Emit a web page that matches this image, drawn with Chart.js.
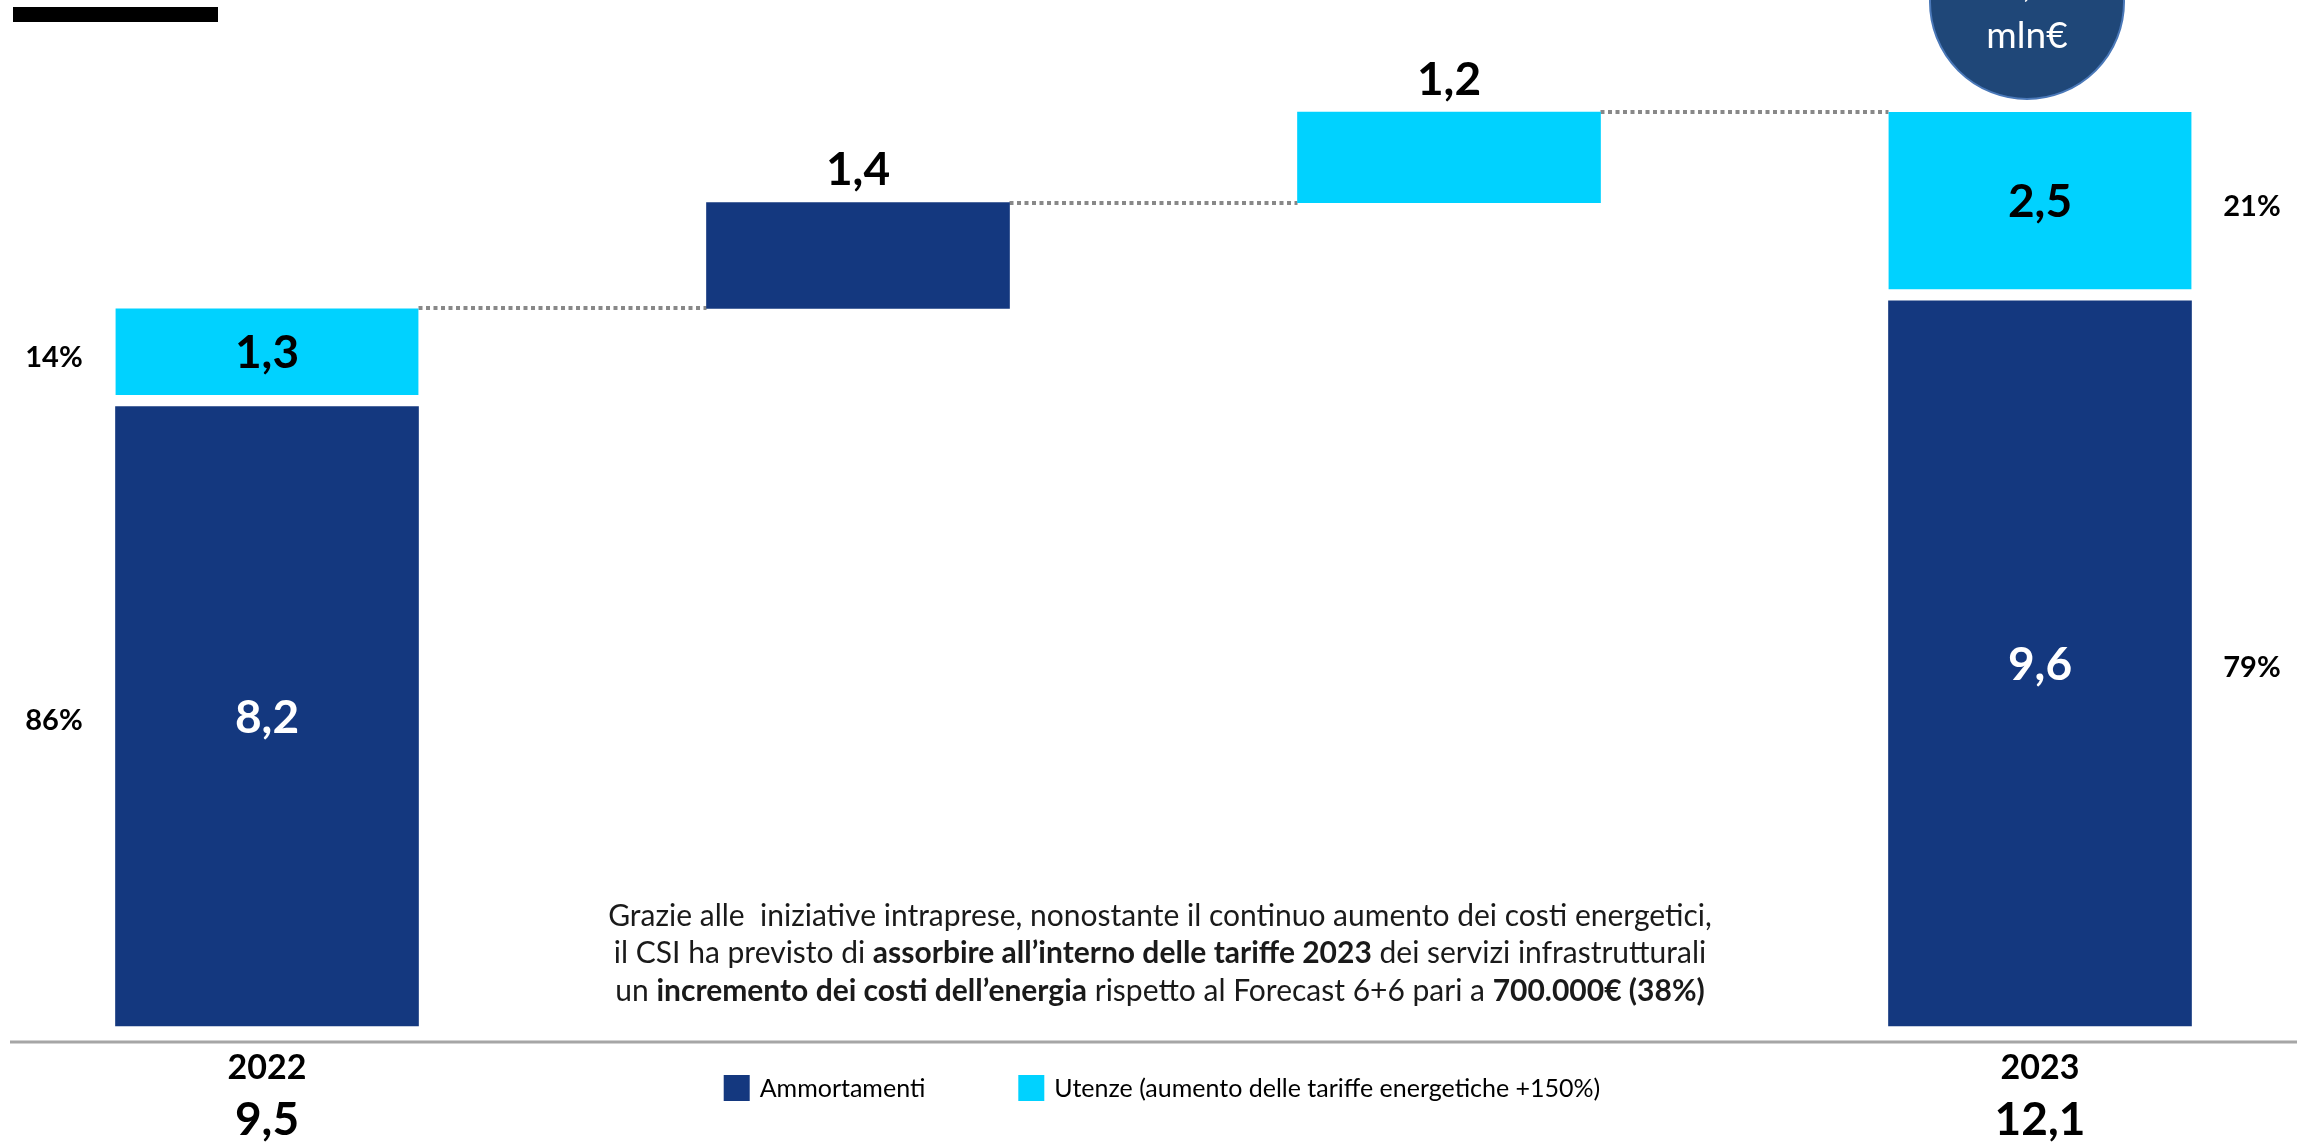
<!DOCTYPE html>
<html>
<head>
<meta charset="utf-8">
<script src="https://cdn.jsdelivr.net/npm/chart.js@4.4.1/dist/chart.umd.min.js"></script>
<style>
html, body { margin: 0; padding: 0; background: #fff; }
#wrap { position: relative; width: 2305px; height: 1145px; }
</style>
</head>
<body>
<div id="wrap"><canvas id="myChart"></canvas></div>
<script>
"use strict";
// waterfall: 2022 -> +ammortamenti -> +utenze -> 2023 (mln€)
var categories = ["2022", "Ammortamenti", "Utenze", "2023"];
var isTotal = [true, false, false, true];
var ammortamenti = [8.2, 1.4, null, 9.6];
var utenze = [1.3, null, 1.2, 2.5];
var seriesNames = ["Ammortamenti", "Utenze (aumento delle tariffe energetiche +150%)"];
var noteLines = [
    [["Grazie alle  iniziative intraprese, nonostante il continuo aumento dei costi energetici,", false]],
    [["il CSI ha previsto di ", false], ["assorbire all\u2019interno delle tariffe 2023", true], [" dei servizi infrastrutturali", false]],
    [["un ", false], ["incremento dei costi dell\u2019energia", true], [" rispetto al Forecast 6+6 pari a ", false], ["700.000\u20ac (38%)", true]]
];

var DARK = "#14387F", CYAN = "#00D2FF";
var FONT = "Lato, 'Noto Sans', sans-serif";

// floating ranges built from the values
var ammRanges = [], uteRanges = [], runAfter = [], running = 0;
for (var i = 0; i < categories.length; i++) {
    if (isTotal[i]) {
        var a = ammortamenti[i] || 0, u = utenze[i] || 0;
        ammRanges.push([0, a]);
        uteRanges.push([a, a + u]);
        running = a + u;
    } else {
        var start = running;
        if (ammortamenti[i] != null) { ammRanges.push([start, start + ammortamenti[i]]); running += ammortamenti[i]; }
        else ammRanges.push(null);
        if (utenze[i] != null) { uteRanges.push([running, running + utenze[i]]); running += utenze[i]; }
        else uteRanges.push(null);
    }
    runAfter.push(running);
}

function fmt(v) { return (Math.round(v * 10) / 10).toFixed(1).replace(".", ","); }

function drawRuns(c, runs, cx, y, size) {
    var w = 0;
    runs.forEach(function (r) {
        c.font = (r[1] ? "bold " : "") + size + "px " + FONT;
        w += c.measureText(r[0]).width;
    });
    var x = cx - w / 2;
    runs.forEach(function (r) {
        c.font = (r[1] ? "bold " : "") + size + "px " + FONT;
        c.fillText(r[0], x, y);
        x += c.measureText(r[0]).width;
    });
}

var decor = {
    id: "decor",
    beforeDatasetsDraw: function (chart) {
        var c = chart.ctx, ys = chart.scales.y;
        var m0 = chart.getDatasetMeta(0).data;
        c.save();
        c.strokeStyle = "#888888";
        c.lineWidth = 4;
        c.setLineDash([4, 3.5]);
        for (var i = 0; i < categories.length - 1; i++) {
            var b = m0[i], n = m0[i + 1];
            var y = Math.round(ys.getPixelForValue(runAfter[i]));
            c.beginPath();
            c.moveTo(b.x + b.width / 2, y);
            c.lineTo(n.x - n.width / 2, y);
            c.stroke();
        }
        c.restore();
    },
    afterDatasetsDraw: function (chart) {
        var c = chart.ctx;
        var m0 = chart.getDatasetMeta(0).data, m1 = chart.getDatasetMeta(1).data;
        c.save();
        c.textAlign = "center";
        c.textBaseline = "middle";

        // bar values
        c.font = "bold 46px " + FONT;
        for (var i = 0; i < categories.length; i++) {
            if (isTotal[i]) {
                var d = m0[i], u = m1[i];
                c.fillStyle = "#fff";
                c.fillText(fmt(ammortamenti[i]), d.x, (d.y + d.base) / 2 + 2);
                c.fillStyle = "#000";
                c.fillText(fmt(utenze[i]), u.x, (u.y + u.base - 12) / 2 + 2);
            } else {
                var v = ammortamenti[i] != null ? ammortamenti[i] : utenze[i];
                var el = ammortamenti[i] != null ? m0[i] : m1[i];
                c.fillStyle = "#000";
                c.fillText(fmt(v), el.x, el.y - 32);
            }
        }

        // shares beside the total columns
        c.font = "bold 29px " + FONT;
        c.fillStyle = "#000";
        [0, categories.length - 1].forEach(function (i) {
            var tot = ammortamenti[i] + utenze[i];
            var x = i === 0 ? 54 : 2252;
            var d = m0[i], u = m1[i];
            c.fillText(Math.round(100 * utenze[i] / tot) + "%", x, (u.y + u.base) / 2);
            c.fillText(Math.round(100 * ammortamenti[i] / tot) + "%", x, (d.y + d.base) / 2 + 4);
        });

        // axis line + category totals
        c.strokeStyle = "#a6a6a6";
        c.lineWidth = 3;
        c.beginPath();
        c.moveTo(10, 1042);
        c.lineTo(2297, 1042);
        c.stroke();
        [0, categories.length - 1].forEach(function (i) {
            c.font = "bold 34px " + FONT;
            c.fillText(categories[i], m0[i].x, 1068);
            c.font = "bold 46px " + FONT;
            c.fillText(fmt(runAfter[i]), m0[i].x, 1120);
        });

        // legend
        c.font = "25px " + FONT;
        var w1 = c.measureText(seriesNames[0]).width, w2 = c.measureText(seriesNames[1]).width;
        var total = 26 + 10 + w1 + 93 + 26 + 10 + w2;
        var lx = 1162 - total / 2;
        c.textAlign = "left";
        c.fillStyle = DARK;
        c.fillRect(lx, 1075, 26, 26);
        c.fillStyle = "#000";
        c.fillText(seriesNames[0], lx + 36, 1089);
        lx += 36 + w1 + 93;
        c.fillStyle = CYAN;
        c.fillRect(lx, 1075, 26, 26);
        c.fillStyle = "#000";
        c.fillText(seriesNames[1], lx + 36, 1089);

        // note
        c.fillStyle = "#1a1a1a";
        noteLines.forEach(function (line, k) {
            drawRuns(c, line, 1160, 916 + k * 37.5, 30);
        });

        // delta bubble (top right, cut by the frame)
        c.beginPath();
        c.arc(2027, 2, 97, 0, Math.PI * 2);
        c.fillStyle = "#1F4778";
        c.fill();
        c.lineWidth = 2;
        c.strokeStyle = "#4A78B8";
        c.stroke();
        c.fillStyle = "#fff";
        c.textAlign = "center";
        c.font = "37px " + FONT;
        c.textBaseline = "alphabetic";
        c.fillText(fmt(runAfter[categories.length - 1] - runAfter[0]), 2027, -3);
        c.textBaseline = "middle";
        c.fillText("mln\u20ac", 2027, 36);

        // title bar
        c.fillStyle = "#000";
        c.fillRect(13, 7, 205, 15);
        c.restore();
    }
};

var ctx = document.getElementById("myChart");
var myChart = new Chart(ctx, {
    type: "bar",
    data: {
        labels: categories,
        datasets: [{
            label: seriesNames[0],
            data: ammRanges,
            backgroundColor: DARK,
            borderWidth: 0,
            grouped: false,
            barThickness: 303,
            clip: false
        }, {
            label: seriesNames[1],
            data: uteRanges,
            backgroundColor: CYAN,
            borderColor: "#fff",
            borderWidth: function (c) {
                return isTotal[c.dataIndex] ? { top: 0, right: 0, bottom: 12, left: 0 } : 0;
            },
            borderSkipped: false,
            grouped: false,
            barThickness: 303,
            clip: false
        }]
    },
    options: {
        responsive: true,
        maintainAspectRatio: false,
        animation: false,
        layout: { padding: { left: 267, right: 265, top: 44, bottom: 119 } },
        scales: {
            x: { display: false, offset: false },
            y: { display: false, min: 0, max: 13 }
        },
        plugins: {
            legend: { display: false },
            tooltip: { enabled: false }
        }
    },
    plugins: [decor]
});
</script>
</body>
</html>
